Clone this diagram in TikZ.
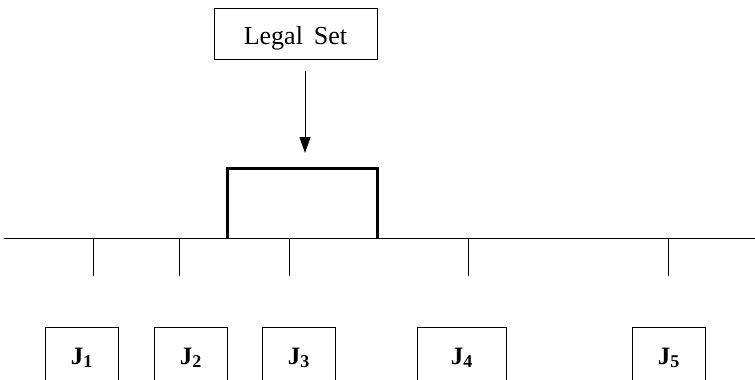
\documentclass[tikz,border=0pt]{standalone}
\usepackage{fontspec}
\setmainfont{Liberation Serif}
\usetikzlibrary{arrows.meta}
\newcommand{\jlab}[1]{J\raisebox{-3.5pt}{\fontsize{18}{22}\selectfont #1}}
\begin{document}
\begin{tikzpicture}[x=1pt,y=-1pt,
  thinline/.style={line width=1pt},
  legalbox/.style={draw,line width=1pt,minimum width=163pt,minimum height=51pt,inner sep=0pt,text height=22pt,text depth=0pt,font=\fontsize{26}{30}\selectfont},
  jbox/.style={draw,line width=1pt,minimum width=73pt,minimum height=73pt,inner sep=0pt,text height=10pt,text depth=10pt,anchor=north,font=\fontsize{25}{28}\selectfont\bfseries},
  tick/.style={line width=1pt}]
\useasboundingbox (0,0) rectangle (755,380);
\clip (0,0) rectangle (755,380);
\node[legalbox] (legal) at (295.5,33.5) {Legal\hspace{11pt}Set};
\draw[line width=3pt] (227,238) |- (377,168) -- (377,238);
\coordinate (tgt) at (305,168);
\coordinate (src) at (305,59);
\draw[thinline,-{Triangle[length=16pt,width=11pt]},shorten <=12pt,shorten >=15pt] (src) -- (tgt);
\coordinate (bl) at (4,238);
\coordinate (br) at (755,238);
\draw[thinline] (bl) -- (br);
\foreach \x/\n in {93/1,179/2,289/3,468/4,668/5}{
  \coordinate (t\n) at (\x,238);
  \coordinate (e\n) at (\x,276);
  \draw[tick] (t\n) -- (e\n);
}
\node[jbox] (j1) at (81.5,327) {\jlab{1}};
\node[jbox] (j2) at (190.5,327) {\jlab{2}};
\node[jbox] (j3) at (298.5,327) {\jlab{3}};
\node[jbox,minimum width=89pt] (j4) at (461.5,327) {\jlab{4}};
\node[jbox] (j5) at (668.5,327) {\jlab{5}};
\end{tikzpicture}
\end{document}
